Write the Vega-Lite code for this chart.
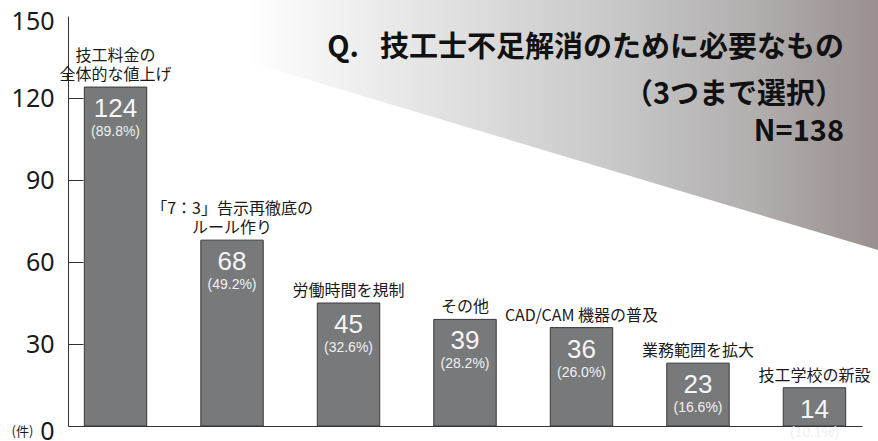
{
  "$schema": "https://vega.github.io/schema/vega-lite/v6.json",
  "width": 794,
  "height": 410,
  "autosize": {"type": "none"},
  "padding": {"left": 68, "top": 16, "right": 16, "bottom": 15},
  "background": "white",
  "config": {"view": {"stroke": null}, "font": "Noto Sans CJK JP"},
  "title": {
    "text": "Q.\u2002 技工士不足解消のために必要なもの",
    "subtitle": ["（3つまで選択）", "N=138"],
    "anchor": "end",
    "frame": "group",
    "orient": "top",
    "font": "Noto Sans CJK JP",
    "fontSize": 29,
    "fontWeight": "bold",
    "color": "#111111",
    "subtitleFont": "Noto Sans CJK JP",
    "subtitleFontSize": 29,
    "subtitleFontWeight": "bold",
    "subtitleColor": "#111111",
    "subtitleLineHeight": 37,
    "subtitlePadding": 18,
    "dx": -18,
    "dy": 147,
    "offset": 0
  },
  "resolve": {"scale": {"x": "independent", "y": "independent"}},
  "layer": [
    {
      "data": {"values": [
        {"gx": 0, "gy": 1.0195, "gy2": 1.04},
        {"gx": 1.0202, "gy": 0.429, "gy2": 1.04}
      ]},
      "mark": {
        "type": "area",
        "clip": false,
        "color": {
          "gradient": "linear",
          "x1": 0, "x2": 1, "y1": 0, "y2": 0,
          "stops": [
            {"offset": 0, "color": "#ffffff"},
            {"offset": 0.22, "color": "#ffffff"},
            {"offset": 0.69, "color": "#c6c6c6"},
            {"offset": 0.85, "color": "#b1aeae"},
            {"offset": 1, "color": "#9a8f8f"}
          ]
        }
      },
      "encoding": {
        "x": {"field": "gx", "type": "quantitative", "scale": {"domain": [0, 1], "nice": false, "zero": false}, "axis": null},
        "y": {"field": "gy", "type": "quantitative", "scale": {"domain": [0, 1], "nice": false, "zero": false}, "axis": null},
        "y2": {"field": "gy2"}
      }
    },
    {
      "data": {"values": [
        {"cat": "A", "line1": "技工料金の", "line2": "全体的な値上げ", "n": 124, "pct": "(89.8%)"},
        {"cat": "B", "line1": "「7：3」告示再徹底の", "line2": "ルール作り", "n": 68, "pct": "(49.2%)"},
        {"cat": "C", "line1": "", "line2": "労働時間を規制", "n": 45, "pct": "(32.6%)"},
        {"cat": "D", "line1": "", "line2": "その他", "n": 39, "pct": "(28.2%)"},
        {"cat": "E", "line1": "", "line2": "CAD/CAM 機器の普及", "n": 36, "pct": "(26.0%)"},
        {"cat": "F", "line1": "", "line2": "業務範囲を拡大", "n": 23, "pct": "(16.6%)"},
        {"cat": "G", "line1": "", "line2": "技工学校の新設", "n": 14, "pct": "(10.1%)"}
      ]},
      "encoding": {
        "x": {
          "field": "cat", "type": "nominal", "sort": null,
          "scale": {"paddingInner": 0.464, "paddingOuter": 0.14},
          "axis": {"title": null, "labels": false, "ticks": false, "domainColor": "#333333", "domainWidth": 1}
        },
        "y": {
          "field": "n", "type": "quantitative",
          "scale": {"domain": [0, 150], "nice": false},
          "axis": {
            "values": [0, 30, 60, 90, 120, 150],
            "grid": false,
            "domainColor": "#333333",
            "tickColor": "#333333",
            "tickSize": -15,
            "tickOpacity": {"condition": {"test": "datum.value == 150 || datum.value == 0", "value": 0}, "value": 1},
            "labelFont": "Noto Sans",
            "labelFontSize": 25,
            "labelColor": "#1a1a1a",
            "labelPadding": 29,
            "labelFlush": false,
            "labelOffset": {"condition": {"test": "datum.value == 150 || datum.value == 0", "value": 5}, "value": 0},
            "title": "(件)",
            "titleAngle": 0,
            "titleFont": "Noto Sans CJK JP",
            "titleFontSize": 13,
            "titleFontWeight": "normal",
            "titleColor": "#1a1a1a",
            "titleAlign": "center",
            "titleBaseline": "middle",
            "titleX": -46,
            "titleY": 415
          }
        }
      },
      "layer": [
        {"mark": {"type": "bar", "color": "#77797b", "stroke": "#3a3a3a", "strokeWidth": 1}},
        {
          "mark": {"type": "text", "baseline": "bottom", "dy": -23, "fontSize": 16, "color": "#1a1a1a", "font": "Noto Sans CJK JP"},
          "encoding": {"text": {"field": "line1"}}
        },
        {
          "mark": {"type": "text", "baseline": "bottom", "dy": -4, "fontSize": 16, "color": "#1a1a1a", "font": "Noto Sans CJK JP"},
          "encoding": {"text": {"field": "line2"}}
        },
        {
          "mark": {"type": "text", "baseline": "middle", "dy": 22, "fontSize": 26, "color": "#f6f6f6", "font": "Liberation Sans"},
          "encoding": {"text": {"field": "n"}}
        },
        {
          "mark": {"type": "text", "baseline": "middle", "dy": 45, "fontSize": 14, "color": "#f0f0f0", "font": "Liberation Sans"},
          "encoding": {"text": {"field": "pct"}}
        }
      ]
    }
  ]
}
